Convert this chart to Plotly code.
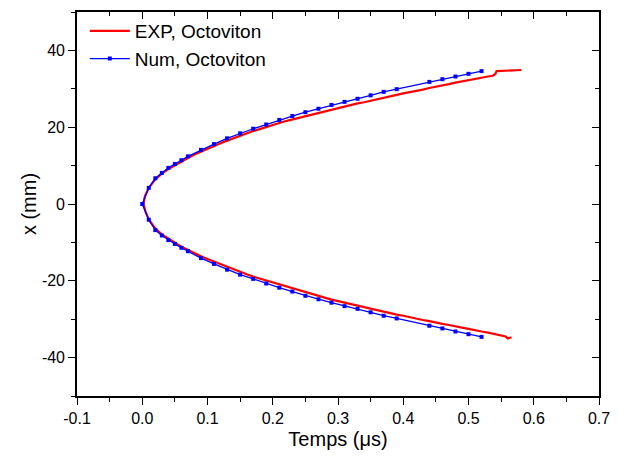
import plotly.graph_objects as go

# ---- Data ----
# Numerical simulation (blue, with markers)
num_t = [0.00, 0.01, 0.02, 0.03, 0.04, 0.05, 0.06, 0.07, 0.09, 0.11, 0.13, 0.15,
         0.17, 0.19, 0.21, 0.23, 0.25, 0.27, 0.29, 0.31, 0.33, 0.35, 0.37, 0.39,
         0.44, 0.46, 0.48, 0.50, 0.52]
num_x_up = [0.0, 4.2, 6.7, 8.1, 9.4, 10.4, 11.4, 12.4, 14.1, 15.6, 17.1, 18.4,
            19.6, 20.7, 21.9, 22.9, 23.9, 24.8, 25.8, 26.6, 27.4, 28.3, 29.2, 29.9,
            31.8, 32.5, 33.2, 33.9, 34.6]
num_x_low = [0.0, -4.1, -6.8, -8.2, -9.4, -10.4, -11.4, -12.3, -14.1, -15.6, -17.1, -18.4,
             -19.5, -20.7, -21.8, -22.8, -23.9, -24.8, -25.7, -26.6, -27.3, -28.2, -29.1, -29.8,
             -31.7, -32.4, -33.2, -33.9, -34.6]

# Experimental data (red)
exp_t_up = [0.002, 0.004, 0.01, 0.02, 0.03, 0.04, 0.05, 0.06, 0.07, 0.08, 0.09, 0.10,
            0.11, 0.12, 0.13, 0.14, 0.15, 0.16, 0.17, 0.18, 0.19, 0.20, 0.21, 0.22,
            0.23, 0.24, 0.25, 0.26, 0.27, 0.28, 0.29, 0.30, 0.31, 0.32, 0.33, 0.34,
            0.35, 0.36, 0.37, 0.38, 0.39, 0.40, 0.41, 0.42, 0.43, 0.44, 0.45, 0.46,
            0.47, 0.48, 0.49, 0.50, 0.51, 0.52, 0.53, 0.537, 0.541, 0.543, 0.55, 0.56,
            0.57, 0.581]
exp_x_up = [0.0, 2.0, 4.2, 6.4, 7.9, 9.1, 10.1, 11.1, 12.0, 12.9, 13.6, 14.4,
            15.1, 15.8, 16.5, 17.1, 17.8, 18.4, 19.0, 19.5, 20.0, 20.5, 21.1, 21.6,
            22.0, 22.4, 22.9, 23.3, 23.7, 24.2, 24.6, 25.0, 25.4, 25.8, 26.2, 26.5,
            26.9, 27.2, 27.6, 28.0, 28.4, 28.8, 29.1, 29.5, 29.8, 30.2, 30.5, 30.9,
            31.2, 31.6, 31.9, 32.2, 32.6, 32.9, 33.2, 33.4, 33.8, 34.6, 34.8, 34.7,
            34.8, 34.9]
exp_t_low = [0.002, 0.005, 0.01, 0.02, 0.03, 0.04, 0.05, 0.06, 0.07, 0.08, 0.09, 0.10,
             0.11, 0.12, 0.13, 0.14, 0.15, 0.16, 0.17, 0.18, 0.19, 0.20, 0.21, 0.22,
             0.23, 0.24, 0.25, 0.26, 0.27, 0.28, 0.29, 0.30, 0.31, 0.32, 0.33, 0.34,
             0.35, 0.36, 0.37, 0.38, 0.39, 0.40, 0.41, 0.42, 0.43, 0.44, 0.45, 0.46,
             0.47, 0.48, 0.49, 0.50, 0.51, 0.52, 0.53, 0.54, 0.55, 0.557, 0.56, 0.566]
exp_x_low = [0.0, -2.0, -4.0, -6.4, -7.9, -9.1, -10.1, -11.1, -12.0, -12.8, -13.6, -14.3,
             -15.0, -15.7, -16.4, -17.0, -17.7, -18.3, -18.9, -19.4, -20.0, -20.5, -21.1, -21.6,
             -22.1, -22.6, -23.1, -23.5, -24.0, -24.4, -24.9, -25.3, -25.7, -26.1, -26.5, -26.9,
             -27.3, -27.7, -28.0, -28.4, -28.8, -29.1, -29.5, -29.8, -30.2, -30.5, -30.9, -31.2,
             -31.5, -31.9, -32.2, -32.5, -32.9, -33.2, -33.5, -33.8, -34.2, -34.5, -35.0, -34.7]

x_tick_vals = [-0.1, 0.0, 0.1, 0.2, 0.3, 0.4, 0.5, 0.6, 0.7]
x_tick_labels = ["-0.1", "0.0", "0.1", "0.2", "0.3", "0.4", "0.5", "0.6", "0.7"]
y_tick_vals = [-40, -20, 0, 20, 40]
y_tick_labels = ["-40", "-20", "0", "20", "40"]

# ---- Build continuous curves (upper end -> vertex -> lower end) ----
exp_t = exp_t_up[::-1] + exp_t_low[1:]
exp_x = exp_x_up[::-1] + exp_x_low[1:]
num_tt = num_t[::-1] + num_t[1:]
num_xx = num_x_up[::-1] + num_x_low[1:]

FONT = "Liberation Sans, Arial, sans-serif"

fig = go.Figure()
fig.add_trace(go.Scatter(x=exp_t, y=exp_x, mode="lines", name="EXP, Octoviton",
                         line=dict(color="#FF0000", width=2.2)))
fig.add_trace(go.Scatter(x=num_tt, y=num_xx, mode="lines+markers", name="Num, Octoviton",
                         line=dict(color="#0000FF", width=1.3),
                         marker=dict(symbol="square", size=4, color="#0000FF")))
# invisible trace for mirrored (top/right) axes with inside ticks
fig.add_trace(go.Scatter(x=num_tt, y=num_xx, mode="lines", xaxis="x2", yaxis="y2",
                         line=dict(width=0), opacity=0, showlegend=False, hoverinfo="skip"))

xr = [-0.1, 0.7]
yr = [-50, 50]
axis_common = dict(showgrid=False, zeroline=False, showline=True, linecolor="black",
                   linewidth=1.6, tickcolor="black", tickwidth=1.3, automargin=False)

fig.update_layout(
    width=619, height=461,
    margin=dict(l=77, r=20, t=12, b=65),
    paper_bgcolor="white", plot_bgcolor="white",
    font=dict(family=FONT, color="black", size=16),
    xaxis=dict(range=xr, tickvals=x_tick_vals, ticktext=x_tick_labels,
               ticks="outside", ticklen=7,
               minor=dict(ticks="outside", ticklen=4, dtick=0.05, tick0=0,
                          tickcolor="black", tickwidth=1.3),
               tickfont=dict(size=16),
               title=dict(text="Temps (μs)", font=dict(size=20), standoff=6),
               **axis_common),
    yaxis=dict(range=yr, tickvals=y_tick_vals, ticktext=y_tick_labels,
               ticks="outside", ticklen=7,
               minor=dict(ticks="outside", ticklen=4, dtick=10, tick0=0,
                          tickcolor="black", tickwidth=1.3),
               tickfont=dict(size=16),
               title=dict(text="x (mm)", font=dict(size=20), standoff=0),
               **axis_common),
    xaxis2=dict(range=xr, overlaying="x", side="top", anchor="y",
                tickvals=x_tick_vals, ticks="inside", ticklen=7, showticklabels=False,
                minor=dict(ticks="inside", ticklen=4, dtick=0.05, tick0=0,
                           tickcolor="black", tickwidth=1.3),
                **axis_common),
    yaxis2=dict(range=yr, overlaying="y", side="right", anchor="x",
                tickvals=y_tick_vals, ticks="inside", ticklen=7, showticklabels=False,
                minor=dict(ticks="inside", ticklen=4, dtick=10, tick0=0,
                           tickcolor="black", tickwidth=1.3),
                **axis_common),
    legend=dict(x=0.015, y=1.0, xanchor="left", yanchor="top",
                bgcolor="rgba(0,0,0,0)", font=dict(size=19, family=FONT),
                tracegroupgap=0, itemwidth=40),
    showlegend=True,
)

fig.write_html("out.html", config={"displayModeBar": False},
               post_script="document.body.style.margin='0';")
